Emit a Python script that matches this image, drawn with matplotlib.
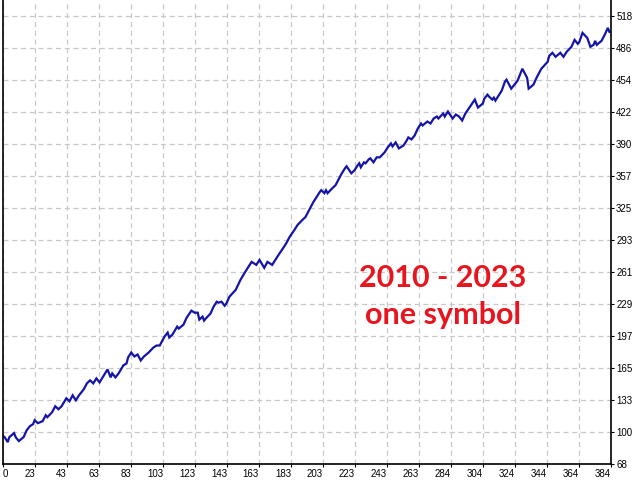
import numpy as np
import matplotlib
matplotlib.use('Agg')
import matplotlib.pyplot as plt

# balance curve (trade number, balance)
trades = [0, 1, 3, 4, 7, 8, 10, 13, 15, 17, 19, 20, 22, 25, 27, 28, 31, 33, 35, 37,
          40, 42, 44, 46, 48, 51, 53, 55, 57, 59, 61, 66, 68, 69, 71, 73, 76, 78, 79, 81,
          83, 85, 87, 89, 92, 95, 97, 99, 101, 102, 104, 105, 107, 110, 111, 114, 116, 119, 121, 123,
          124, 126, 127, 128, 131, 133, 135, 136, 138, 140, 141, 143, 147, 150, 153, 155, 157, 160, 162, 165,
          167, 170, 174, 177, 179, 181, 184, 186, 189, 191, 194, 196, 198, 200, 201, 203, 204, 205, 208, 210,
          212, 214, 216, 217, 220, 222, 224, 225, 226, 228, 229, 231, 232, 234, 236, 238, 241, 243, 245, 246,
          248, 250, 253, 255, 256, 258, 260, 262, 264, 265, 268, 270, 272, 274, 275, 278, 279, 281, 284, 286,
          288, 290, 292, 295, 298, 300, 303, 304, 306, 307, 309, 310, 311, 313, 315, 317, 318, 321, 322, 325,
          327, 328, 331, 332, 335, 337, 340, 344, 345, 347, 349, 352, 354, 356, 359, 361, 363, 364, 366, 369,
          371, 373, 374, 375, 378, 380, 382, 383]
balance = [96, 95, 90, 95, 99, 95, 91, 95, 102, 106, 108, 112, 109, 111, 117, 115, 120, 126, 123, 126,
           134, 131, 137, 132, 137, 143, 149, 152, 149, 154, 150, 163, 155, 159, 155, 159, 167, 169, 175, 180,
           176, 178, 172, 176, 180, 185, 187, 187, 193, 196, 200, 195, 198, 206, 204, 208, 215, 222, 220, 220,
           213, 216, 212, 214, 219, 226, 231, 230, 231, 227, 229, 236, 243, 253, 261, 266, 271, 268, 273, 265,
           271, 268, 278, 285, 290, 296, 303, 308, 313, 316, 325, 331, 336, 341, 343, 340, 343, 340, 345, 348,
           354, 360, 365, 367, 360, 363, 368, 370, 366, 371, 370, 374, 375, 371, 376, 376, 381, 386, 390, 387,
           391, 385, 388, 393, 396, 394, 398, 405, 410, 408, 412, 410, 415, 417, 415, 420, 417, 422, 415, 419,
           417, 413, 420, 427, 434, 426, 430, 435, 439, 437, 434, 436, 433, 438, 443, 452, 454, 445, 447, 453,
           461, 465, 456, 445, 449, 456, 465, 472, 478, 481, 477, 481, 477, 482, 487, 494, 490, 492, 501, 496,
           487, 489, 493, 489, 493, 499, 506, 502]

x_labels = ['0', '23', '43', '63', '83', '103', '123', '143', '163', '183', '203',
            '223', '243', '263', '284', '304', '324', '344', '364', '384']
y_labels = ['68', '100', '133', '165', '197', '229', '261', '293', '325', '357',
            '390', '422', '454', '486', '518']

fig = plt.figure(figsize=(6.4, 4.8), dpi=100)
ax = fig.add_axes([3/640, 16/480, 608/640, 464/480])

ax.plot(trades, balance, color='#1414a8', lw=1.6, solid_joinstyle='miter')

ax.set_xlim(0, 384)
ax.set_ylim(68, 68 + 464 * 32.14 / 32)

xt = np.linspace(0, 384, len(x_labels))
yt = np.linspace(68, 518, len(y_labels))
ax.set_xticks(xt)
ax.set_yticks(yt)
ax.set_xticklabels(x_labels, ha='right', fontsize=7, family='Liberation Sans')
ax.get_xticklabels()[0].set_ha('left')
ax.set_yticklabels(y_labels, fontsize=7, family='Liberation Sans')
ax.yaxis.tick_right()
ax.tick_params(axis='both', length=2.2, width=0.8, pad=1.5, colors='black')

ax.grid(True, color='#c8c8c8', linestyle=(0, (4, 3)), linewidth=0.9)
ax.set_axisbelow(True)
ax.spines['top'].set_visible(False)
for s in ['left', 'bottom', 'right']:
    ax.spines[s].set_linewidth(1.2)
    ax.spines[s].set_color('black')

fig.text(443/640, 1 - 287/480, '2010 - 2023', color='#e8141e', fontsize=22,
         fontweight='bold', family='Lato', ha='center', va='baseline')
fig.text(443/640, 1 - 324/480, 'one symbol', color='#e8141e', fontsize=22,
         fontweight='bold', family='Lato', ha='center', va='baseline')

plt.savefig('out.png', dpi=100)
